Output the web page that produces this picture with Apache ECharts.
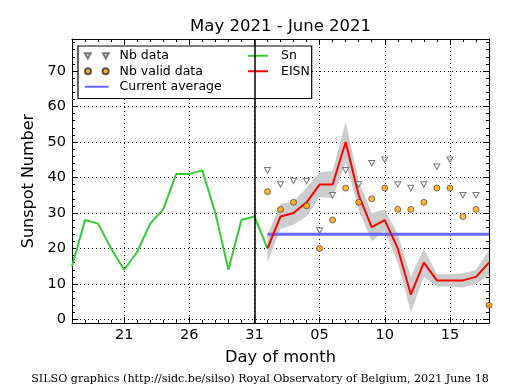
<!DOCTYPE html>
<html><head><meta charset="utf-8">
<script src="https://cdn.jsdelivr.net/npm/echarts@6/dist/echarts.min.js"></script>
<style>html,body{margin:0;padding:0;background:#fff}#c{width:515px;height:390px}</style>
</head><body><div id="c"></div>
<script>
// Day labels: May 17 .. June 18 (index 0 .. 32)
const dayLabels = ['17','18','19','20','21','22','23','24','25','26','27','28','29','30','31',
  '01','02','03','04','05','06','07','08','09','10','11','12','13','14','15','16','17','18'];
const firstMajorIndex = 4;      // May 21 sits on a major tick
const boundaryIndex = 14;       // May 31 vertical line
// Sn: May 17 .. June 1
const snStart = 0;
const snValues = [15, 28, 27, 20, 14, 19, 27, 31, 41, 41, 42, 30, 14, 28, 29, 20];
// June 1 .. June 18
const curStart = 15;
const eisnValues = [20, 29, 30, 33, 38, 38, 50, 35, 26, 28, 20, 7, 16, 11, 11, 11, 12, 16];
const bandLower  = [16, 25.5, 26.7, 29, 34.5, 34.2, 44.3, 31, 22, 25, 16, 2, 12, 9.3, 9.3, 9, 10, 12.5];
const bandUpper  = [23.7, 32.5, 33.3, 37, 41.5, 41.8, 55.7, 39, 30, 31, 24, 12, 20, 12.7, 12.7, 13, 14, 19.5];
const nbData     = [42, 38, 39, 39, 25, 35, 42, 38, 44, 45, 38, 37, 38, 43, 45, 35, 35];
const nbValid    = [36, 31, 33, 32, 20, 28, 37, 33, 34, 37, 31, 31, 33, 37, 37, 29, 31, 4];
const currentAverage = 24;
const avgDays = 18;

const xOf = i => i - firstMajorIndex;
const toPts = (arr, start) => arr.map((v, k) => [xOf(start + k), v]);

const FONT = '"DejaVu Sans", sans-serif';
const triPath = 'path://M0,0L10,0L5,9Z';
const triLegend = 'path://M0,0L5.5,0L2.75,5ZM17.6,0L23.1,0L20.35,5Z';
const dotLegend = 'path://M0,3A3,3,0,1,1,6,3A3,3,0,1,1,0,3ZM17.6,3A3,3,0,1,1,23.6,3A3,3,0,1,1,17.6,3Z';
const noSymbol = {color: 'transparent', borderColor: 'transparent', borderWidth: 0, opacity: 0};

const xMin = xOf(0), xMax = xOf(dayLabels.length - 1);
const tickCommon = {
  axisLine: {show: true, onZero: false, lineStyle: {color: '#000', width: 1}},
  axisTick: {show: true, inside: true, length: 6, lineStyle: {color: '#000', width: 1}},
  minorTick: {show: true, splitNumber: 5, length: 3, lineStyle: {color: '#000', width: 1}}
};
const xBase = Object.assign({type: 'value', min: xMin, max: xMax, splitNumber: 6}, tickCommon);
const yBase = Object.assign({type: 'value', min: -1, max: 79, splitNumber: 8}, tickCommon);

const bandData = bandLower.map((lo, k) => [xOf(curStart + k), lo, bandUpper[k]]);
const avgPts = Array.from({length: avgDays}, (_, k) => [xOf(curStart + k), currentAverage]);

const chart = echarts.init(document.getElementById('c'), null, {renderer: 'canvas'});
chart.setOption({
  animation: false,
  grid: {left: 72, right: 26, top: 39, bottom: 67},
  xAxis: [
    Object.assign({}, xBase, {
      position: 'bottom',
      axisLabel: {show: true, margin: 5, color: '#000', fontFamily: FONT, fontSize: 14.5,
        formatter: v => (Math.round(v) % 5 === 0 ? dayLabels[Math.round(v) + firstMajorIndex] : '')},
      splitLine: {show: true, lineStyle: {color: '#000', width: 1, type: [1, 3]}},
      name: 'Day of month', nameLocation: 'middle', nameGap: 27,
      nameTextStyle: {color: '#000', fontFamily: FONT, fontSize: 16.3}
    }),
    Object.assign({}, xBase, {position: 'top', axisLabel: {show: false}, splitLine: {show: false}})
  ],
  yAxis: [
    Object.assign({}, yBase, {
      position: 'left',
      axisLabel: {show: true, margin: 6, color: '#000', fontFamily: FONT, fontSize: 14.5,
        formatter: v => (v % 10 === 0 ? String(v) : '')},
      splitLine: {show: true, lineStyle: {color: '#000', width: 1, type: [1, 3]}},
      name: 'Sunspot Number', nameLocation: 'middle', nameGap: 28,
      nameTextStyle: {color: '#000', fontFamily: FONT, fontSize: 16}
    }),
    Object.assign({}, yBase, {position: 'right', axisLabel: {show: false}, splitLine: {show: false}})
  ],
  legend: [
    {
      orient: 'vertical', left: 78, top: 46, padding: [2, 90, 4, 6], itemGap: 0,
      itemWidth: 23.6, itemHeight: 6, selectedMode: false,
      backgroundColor: '#fff', borderColor: '#000', borderWidth: 1.2,
      textStyle: {color: '#000', fontFamily: FONT, fontSize: 12.5, lineHeight: 15.5, padding: [0, 0, 0, 6]},
      data: [
        {name: 'Nb data', icon: triLegend},
        {name: 'Nb valid data', icon: dotLegend},
        {name: 'Current average', itemStyle: noSymbol}
      ]
    },
    {
      orient: 'vertical', left: 247, top: 48, padding: 0, itemGap: 0,
      itemWidth: 20, itemHeight: 6, selectedMode: false,
      textStyle: {color: '#000', fontFamily: FONT, fontSize: 12.5, lineHeight: 15.5, padding: [0, 0, 0, 8]},
      data: [{name: 'Sn', itemStyle: noSymbol}, {name: 'EISN', itemStyle: noSymbol}]
    }
  ],
  series: [
    {name: 'EISN band', type: 'custom', data: bandData, z: 1, silent: true, clip: true,
      encode: {x: 0, y: [1, 2]},
      renderItem: (params, api) => {
        if (params.dataIndex !== 0) return;
        const top = bandData.map(d => api.coord([d[0], d[2]]));
        const bot = bandData.map(d => api.coord([d[0], d[1]])).reverse();
        return {type: 'polygon', shape: {points: top.concat(bot)}, style: {fill: '#cccccc'}};
      }},
    {name: 'Sn', type: 'line', data: toPts(snValues, snStart), symbol: 'none', z: 2,
      color: '#33cc33', lineStyle: {color: '#33cc33', width: 2},
      markLine: {silent: true, symbol: ['none', 'none'], label: {show: false}, animation: false,
        lineStyle: {color: '#000', width: 1.5, type: 'solid'},
        data: [{xAxis: xOf(boundaryIndex)}]}},
    {name: 'Current average', type: 'line', data: avgPts, symbol: 'none', z: 3,
      color: '#6666ff', lineStyle: {color: '#6666ff', width: 3}},
    {name: 'EISN', type: 'line', data: toPts(eisnValues, curStart), symbol: 'none', z: 4,
      color: '#ff0000', lineStyle: {color: '#ff0000', width: 2}},
    {name: 'Nb data', type: 'scatter', data: toPts(nbData, curStart), symbol: triPath,
      symbolSize: [6, 5.5], z: 5,
      itemStyle: {color: '#ffffff', borderColor: '#555555', borderWidth: 1}},
    {name: 'Nb valid data', type: 'scatter', data: toPts(nbValid, curStart), symbol: 'circle',
      symbolSize: 6, z: 6,
      itemStyle: {color: '#ffa500', borderColor: '#333333', borderWidth: 0.8}}
  ],
  graphic: [
    {type: 'text', x: 280.6, y: 27, silent: true,
      style: {text: 'May 2021 - June 2021', fill: '#000', font: '16.5px ' + FONT,
        textAlign: 'center', textVerticalAlign: 'middle'}},
    {type: 'text', x: 260, y: 379, silent: true,
      style: {text: 'SILSO graphics (http://sidc.be/silso) Royal Observatory of Belgium, 2021 June 18',
        fill: '#000', font: '11.1px "DejaVu Serif", serif', textAlign: 'center', textVerticalAlign: 'middle'}}
  ]
});
</script></body></html>
